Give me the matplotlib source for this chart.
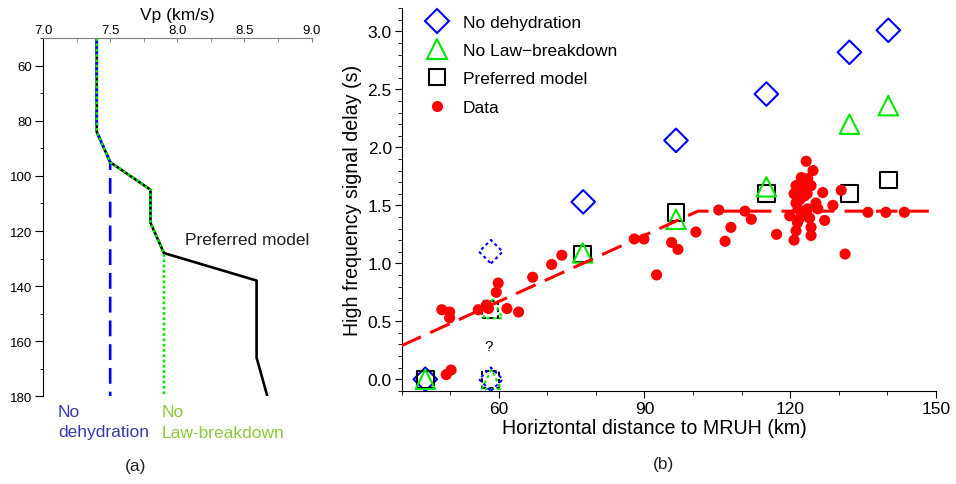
import matplotlib
matplotlib.use("Agg")
import matplotlib.pyplot as plt
from matplotlib.lines import Line2D
from matplotlib.ticker import MultipleLocator

plt.rcParams['font.family'] = ['Liberation Sans', 'DejaVu Sans']

# (a) velocity profiles: depth (km) vs Vp (km/s)
pref_depth = [50, 84, 95, 105, 117, 128, 138, 166, 180]
pref_vp = [7.4, 7.4, 7.5, 7.8, 7.8, 7.9, 8.59, 8.59, 8.67]
nodehyd_depth = [50, 84, 95, 180]
nodehyd_vp = [7.4, 7.4, 7.5, 7.5]
nolaw_depth = [50, 84, 95, 105, 117, 128, 180]
nolaw_vp = [7.4, 7.4, 7.5, 7.8, 7.8, 7.9, 7.9]

# (b) model predictions: distance (km), delay (s)
nodehyd_x = [44.9, 77.4, 96.5, 115.1, 132.2, 140.2]
nodehyd_y = [0.0, 1.53, 2.06, 2.46, 2.82, 3.01]
nolaw_x = [44.9, 77.3, 96.5, 115.1, 132.2, 140.2]
nolaw_y = [0.0, 1.09, 1.38, 1.66, 2.20, 2.36]
pref_x = [44.9, 77.3, 96.5, 115.1, 132.2, 140.2]
pref_y = [0.0, 1.08, 1.44, 1.60, 1.60, 1.72]

# uncertain station (dotted symbols)
q_dehyd_x = [58.4, 58.4]
q_dehyd_y = [1.10, 0.0]
q_law_x = [58.8, 58.5]
q_law_y = [0.61, 0.0]
q_pref_x = [58.2, 58.3]
q_pref_y = [0.60, 0.0]

# red dashed trend
trend_x = [40, 101, 150]
trend_y = [0.29, 1.45, 1.45]

# observed delays
data_x = [48.3, 49.9, 49.9, 49.2, 50.2, 55.8, 57.5, 57.9, 59.5, 59.9, 61.7, 64.1,
          67.0, 70.9, 73.0, 87.9, 89.9, 92.5, 95.6, 96.9, 100.6, 105.3, 106.6,
          107.8, 110.7, 112.0, 117.2,
          123.3, 124.7, 122.3, 123.6, 121.2, 124.3, 122.9, 126.7, 120.8, 122.9,
          121.2, 125.3, 128.8, 121.6, 123.6, 125.7, 119.9, 122.0, 124.0, 127.1,
          124.3, 121.2, 124.3, 120.8, 130.5, 131.3, 136.0, 139.7, 143.5,
          122.0, 123.5, 121.5, 123.0, 122.5]
data_y = [0.60, 0.58, 0.53, 0.04, 0.08, 0.60, 0.64, 0.61, 0.75, 0.83, 0.61, 0.58,
          0.88, 0.99, 1.07, 1.21, 1.21, 0.90, 1.18, 1.12, 1.27, 1.46, 1.19,
          1.31, 1.45, 1.38, 1.25,
          1.88, 1.80, 1.74, 1.73, 1.67, 1.67, 1.67, 1.61, 1.60, 1.58,
          1.52, 1.52, 1.50, 1.47, 1.47, 1.47, 1.41, 1.39, 1.39, 1.37,
          1.31, 1.28, 1.24, 1.20, 1.63, 1.08, 1.44, 1.44, 1.44,
          1.55, 1.60, 1.35, 1.45, 1.62]

BLUE = '#0000ff'
GREEN = '#00e600'
RED = '#ff0000'

fig = plt.figure(figsize=(9.56, 4.85), dpi=100)

# ---------------- panel (a) ----------------
ax1 = fig.add_axes([0.045, 0.181, 0.281, 0.738])
ax1.plot(pref_vp, pref_depth, color='black', lw=1.9)
ax1.plot(nodehyd_vp, nodehyd_depth, color=BLUE, lw=1.9, dashes=(6, 3))
ax1.plot(nolaw_vp, nolaw_depth, color=GREEN, lw=1.9, dashes=(1, 1))
ax1.set_xlim(7.0, 9.0)
ax1.set_ylim(180, 50)
ax1.xaxis.set_ticks_position('top')
ax1.xaxis.set_label_position('top')
ax1.set_xticks([7.0, 7.5, 8.0, 8.5, 9.0])
ax1.set_xticklabels(['7.0', '7.5', '8.0', '8.5', '9.0'])
ax1.xaxis.set_minor_locator(MultipleLocator(0.25))
ax1.set_yticks([60, 80, 100, 120, 140, 160, 180])
ax1.yaxis.set_minor_locator(MultipleLocator(10))
ax1.tick_params(axis='x', which='both', direction='in', length=3, pad=2,
                labelsize=9.5, color='#808080')
ax1.tick_params(axis='y', which='major', direction='out', length=6, pad=2, labelsize=9.5)
ax1.tick_params(axis='y', which='minor', direction='out', length=2.5)
ax1.set_xlabel('Vp (km/s)', fontsize=12.5, labelpad=3)
for s in ['right', 'bottom']:
    ax1.spines[s].set_visible(False)
ax1.spines['top'].set_color('#808080')
ax1.text(8.06, 123, 'Preferred model', fontsize=12.5, color='#222222', va='center')

fig.text(58 / 956, 1 - 413 / 485, 'No', color='#3a3aa8', fontsize=12.5, va='center')
fig.text(58 / 956, 1 - 433 / 485, 'dehydration', color='#3a3aa8', fontsize=12.5, va='center')
fig.text(162 / 956, 1 - 413 / 485, 'No', color='#8cc83c', fontsize=12.5, va='center')
fig.text(162 / 956, 1 - 433 / 485, 'Law-breakdown', color='#8cc83c', fontsize=12.5, va='center')
fig.text(136 / 956, 1 - 467 / 485, '(a)', fontsize=12.5, ha='center', va='center', color='#222222')

# ---------------- panel (b) ----------------
ax2 = fig.add_axes([0.420, 0.192, 0.559, 0.789])
ax2.scatter(nodehyd_x, nodehyd_y, marker='D', s=12 ** 2, facecolors='none',
            edgecolors=BLUE, linewidths=1.5, zorder=3)
ax2.scatter(pref_x, pref_y, marker='s', s=12 ** 2, facecolors='none',
            edgecolors='black', linewidths=1.5, zorder=3)
ax2.scatter(nolaw_x, nolaw_y, marker='^', s=14 ** 2, facecolors='none',
            edgecolors=GREEN, linewidths=1.5, zorder=3)
ax2.scatter(q_pref_x, q_pref_y, marker='s', s=12 ** 2, facecolors='none',
            edgecolors='black', linewidths=1.5, linestyles=(0, (2, 1.5)), zorder=3)
ax2.scatter(q_law_x, q_law_y, marker='^', s=14 ** 2, facecolors='none',
            edgecolors=GREEN, linewidths=1.5, linestyles=(0, (1.5, 1.5)), zorder=3)
ax2.scatter(q_dehyd_x, q_dehyd_y, marker='D', s=12 ** 2, facecolors='none',
            edgecolors=BLUE, linewidths=1.5, linestyles=(0, (1.5, 1.5)), zorder=3)
ax2.plot(trend_x, trend_y, color=RED, lw=2.2, dashes=(7, 3.3), zorder=4)
ax2.scatter(data_x, data_y, marker='o', s=8 ** 2, color=RED, edgecolors='none', zorder=5)
ax2.text(57.9, 0.29, '?', fontsize=11, ha='center', va='center')

ax2.set_xlim(40, 150)
ax2.set_ylim(-0.1, 3.2)
ax2.set_xticks([60, 90, 120, 150])
ax2.xaxis.set_minor_locator(MultipleLocator(10))
ax2.set_yticks([0.0, 0.5, 1.0, 1.5, 2.0, 2.5, 3.0])
ax2.set_yticklabels(['0.0', '0.5', '1.0', '1.5', '2.0', '2.5', '3.0'])
ax2.yaxis.set_minor_locator(MultipleLocator(0.1))
ax2.tick_params(which='major', direction='out', length=5, pad=2, labelsize=12.5)
ax2.tick_params(which='minor', direction='out', length=3)
for s in ['right', 'top']:
    ax2.spines[s].set_visible(False)
ax2.set_xlabel('Horiztontal distance to MRUH (km)', fontsize=14.1, labelpad=2)
ax2.set_ylabel('High frequency signal delay (s)', fontsize=14.1, labelpad=4)
ax2.xaxis.label.set_x(0.474)

handles = [
    Line2D([], [], ls='none', marker='D', ms=12, mfc='none', mec=BLUE, mew=1.5),
    Line2D([], [], ls='none', marker='^', ms=14, mfc='none', mec=GREEN, mew=1.5),
    Line2D([], [], ls='none', marker='s', ms=12, mfc='none', mec='black', mew=1.5),
    Line2D([], [], ls='none', marker='o', ms=8, color=RED, mec='none'),
]
labels = ['No dehydration', 'No Law\u2212breakdown', 'Preferred model', 'Data']
ax2.legend(handles, labels, loc='upper left', bbox_to_anchor=(0.0, 1.032),
           frameon=False, fontsize=12.5, handlelength=2.0, handletextpad=0.45,
           labelspacing=0.76, borderaxespad=0.67)

fig.text(663 / 956, 1 - 465 / 485, '(b)', fontsize=12.5, ha='center', va='center', color='#222222')

fig.savefig('out.png', dpi=100)
